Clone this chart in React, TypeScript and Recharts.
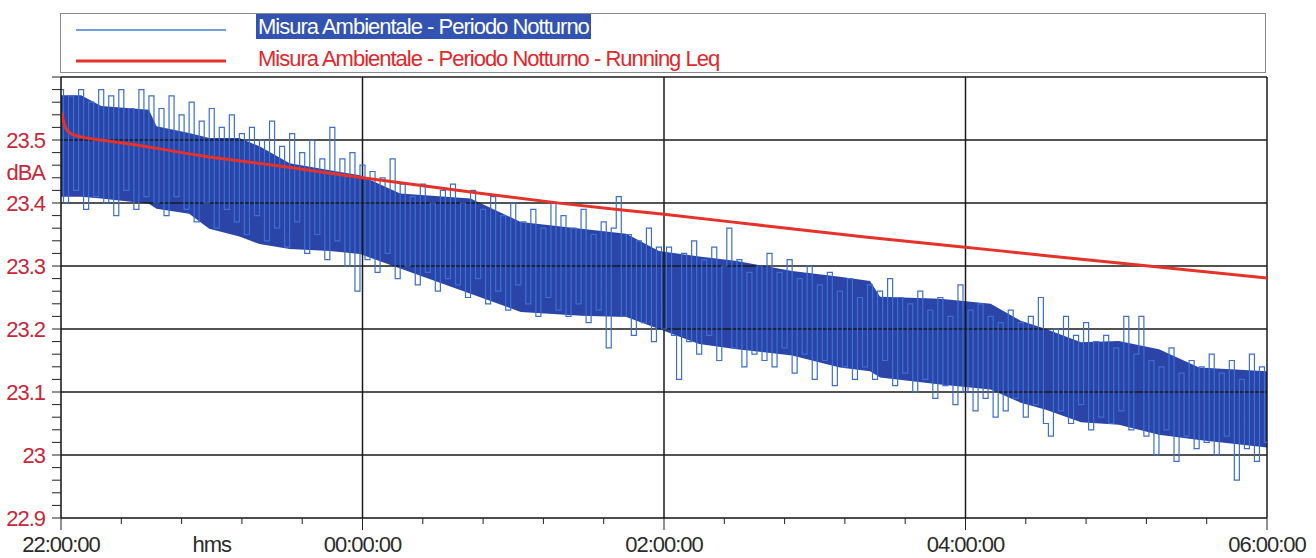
import { ComposedChart, Line, Area, XAxis, YAxis, ReferenceLine } from "recharts";

// minutes after 22:00:00, one sample every 2 minutes
const SAMPLE_MINUTES = 2;

const levels = [
  23.58, 23.40, 23.57, 23.42, 23.58, 23.39, 23.56, 23.41, 23.58, 23.40, 23.57, 23.38, 23.58, 23.42, 23.55, 23.39, 23.58, 23.41,
  23.57, 23.40, 23.55, 23.38, 23.57, 23.41, 23.54, 23.39, 23.56, 23.37, 23.53, 23.40, 23.55, 23.36, 23.52, 23.39, 23.54, 23.37, 23.51, 23.35,
  23.52, 23.38, 23.50, 23.34, 23.53, 23.36, 23.49, 23.33, 23.51, 23.37, 23.48, 23.32, 23.50, 23.35, 23.47, 23.31, 23.52, 23.34, 23.47, 23.30, 23.48, 23.26,
  23.46, 23.31, 23.45, 23.29, 23.44, 23.32, 23.47, 23.28, 23.43, 23.30, 23.41, 23.27, 23.43, 23.29, 23.40, 23.26, 23.42, 23.28,
  23.43, 23.27, 23.40, 23.25, 23.42, 23.28, 23.39, 23.24, 23.41, 23.26, 23.38, 23.23, 23.40, 23.27, 23.37, 23.24, 23.39, 23.22, 23.36, 23.25, 23.40, 23.23,
  23.38, 23.22, 23.36, 23.24, 23.39, 23.21, 23.35, 23.23, 23.37, 23.17, 23.36, 23.41, 23.22, 23.35, 23.19, 23.34, 23.21, 23.36, 23.18, 23.33,
  23.20, 23.33, 23.19, 23.12, 23.32, 23.18, 23.34, 23.16, 23.31, 23.19, 23.33, 23.15, 23.30, 23.36, 23.17, 23.31, 23.14, 23.29, 23.16, 23.30,
  23.15, 23.32, 23.14, 23.29, 23.17, 23.31, 23.13, 23.28, 23.16, 23.30, 23.12, 23.27, 23.15, 23.29, 23.11, 23.26, 23.14, 23.28, 23.12, 23.25,
  23.14, 23.27, 23.12, 23.26, 23.15, 23.28, 23.11, 23.25, 23.13, 23.24, 23.10, 23.26, 23.12, 23.23, 23.09, 23.25, 23.11, 23.22, 23.08, 23.27,
  23.10, 23.23, 23.07, 23.24, 23.09, 23.22, 23.06, 23.21,
  23.07, 23.23, 23.09, 23.21, 23.06, 23.22, 23.08, 23.25, 23.05, 23.03, 23.20, 23.07, 23.22, 23.05, 23.19, 23.08, 23.21, 23.04, 23.18, 23.06,
  23.19, 23.05, 23.17, 23.07, 23.22, 23.04, 23.16, 23.22, 23.03, 23.15, 23.00, 23.14, 23.04, 23.17, 22.99, 23.13, 23.03, 23.15, 23.01,
  23.14, 23.02, 23.16, 23.00, 23.13, 23.03, 23.15, 22.96, 23.12, 23.01, 23.16, 22.99, 23.14, 23.02,
];

const bandMinutes = [0, 8, 16, 35, 38, 51, 59, 71, 79, 91, 107, 119, 135, 163, 183, 207, 225, 238, 254, 269, 291, 310, 322, 326, 350, 370, 382, 392, 406, 421, 437, 453, 480];
const bandHigh = [
  23.571, 23.571, 23.554, 23.548, 23.522, 23.511, 23.503, 23.503, 23.49, 23.463, 23.452, 23.444, 23.415, 23.407, 23.37, 23.359, 23.351,
  23.324, 23.315, 23.308, 23.292, 23.283, 23.276, 23.251, 23.248, 23.24, 23.213, 23.2, 23.179, 23.181, 23.168, 23.139, 23.133,
];
const bandLow = [
  23.41, 23.41, 23.407, 23.399, 23.391, 23.383, 23.359, 23.347, 23.335, 23.327, 23.324, 23.319, 23.296, 23.256, 23.227, 23.221, 23.219,
  23.2, 23.176, 23.168, 23.158, 23.139, 23.133, 23.123, 23.112, 23.104, 23.083, 23.072, 23.052, 23.048, 23.032, 23.024, 23.012,
];

// running Leq
const leqMinutes = [0, 2, 4, 8, 16, 30, 56, 90, 120, 160, 200, 240, 280, 320, 374, 420, 480];
const leqValues = [23.545, 23.518, 23.51, 23.505, 23.5, 23.492, 23.475, 23.457, 23.44, 23.419, 23.399, 23.382, 23.364, 23.346, 23.324, 23.305, 23.281];

const xTicks = [0, 24, 48, 60, 72, 96, 120, 144, 168, 192, 216, 240, 264, 288, 312, 336, 360, 384, 408, 432, 456, 480];
const xMajorTicks = [0, 120, 240, 360, 480];
const xMajorLabels = ["22:00:00", "00:00:00", "02:00:00", "04:00:00", "06:00:00"];
const xUnitTick = 60;
const xUnitLabel = "hms";
const xGrid = [120, 240, 360];

const yTicks = [
  22.9, 22.92, 22.94, 22.96, 22.98, 23, 23.02, 23.04, 23.06, 23.08, 23.1, 23.12, 23.14, 23.16, 23.18,
  23.2, 23.22, 23.24, 23.26, 23.28, 23.3, 23.32, 23.34, 23.36, 23.38, 23.4, 23.42, 23.44, 23.45, 23.46, 23.48,
  23.5, 23.52, 23.54, 23.56, 23.58, 23.6,
];
const yMajorTicks = [22.9, 23, 23.1, 23.2, 23.3, 23.4, 23.5];
const yMajorLabels = ["22.9", "23", "23.1", "23.2", "23.3", "23.4", "23.5"];
const yUnitTick = 23.45;
const yUnitLabel = "dBA";
const yGrid = [23, 23.1, 23.2, 23.3, 23.4, 23.5];

const seriesNames = ["Misura Ambientale - Periodo Notturno", "Misura Ambientale - Periodo Notturno - Running Leq"];

const levelData = levels.map((v, i) => ({ t: i * SAMPLE_MINUTES, level: v }));
const bandData = bandMinutes.map((t, i) => ({ t, band: [bandLow[i], bandHigh[i]] }));
const leqData = leqMinutes.map((t, i) => ({ t, leq: leqValues[i] }));

const FONT = "'Liberation Sans Narrow', 'Arial Narrow', 'Liberation Sans', sans-serif";
const same = (a: number, b: number) => Math.abs(a - b) < 1e-6;

const XTick = ({ x, y, payload }: any) => {
  const v = payload.value as number;
  if (same(v, xUnitTick)) {
    return <text x={x} y={y + 34} textAnchor="middle" fontFamily={FONT} fontSize={22} fill="#2b2b2b" letterSpacing={-1}>{xUnitLabel}</text>;
  }
  const idx = xMajorTicks.findIndex(m => same(m, v));
  return (
    <g>
      <line x1={x} x2={x} y1={y} y2={y + (idx >= 0 ? 12 : 6)} stroke="#222" strokeWidth={1} />
      {idx >= 0 && (
        <text x={x} y={y + 34} textAnchor="middle" fontFamily={FONT} fontSize={22} fill="#2b2b2b" letterSpacing={-1}>{xMajorLabels[idx]}</text>
      )}
    </g>
  );
};

const YTick = ({ x, y, payload }: any) => {
  const v = payload.value as number;
  if (same(v, yUnitTick)) {
    return <text x={x - 16} y={y + 8} textAnchor="end" fontFamily={FONT} fontSize={22} fill="#c8283a" letterSpacing={-1}>{yUnitLabel}</text>;
  }
  const idx = yMajorTicks.findIndex(m => same(m, v));
  return (
    <g>
      <line x1={x - 9} x2={x} y1={y} y2={y} stroke="#222" strokeWidth={1} />
      {idx >= 0 && (
        <text x={x - 16} y={y + 8} textAnchor="end" fontFamily={FONT} fontSize={22} fill="#c8283a" letterSpacing={-1}>{yMajorLabels[idx]}</text>
      )}
    </g>
  );
};

function LegendBox() {
  return (
    <div style={{ position: "absolute", left: 60, top: 13, width: 1206, height: 60, border: "1px solid #8a8a8a", boxSizing: "border-box", background: "#fff", fontFamily: FONT }}>
      <svg width={170} height={60} style={{ position: "absolute", left: 0, top: 0 }}>
        <line x1={15} x2={165} y1={16} y2={16} stroke="#3f7fd4" strokeWidth={1.5} />
        <line x1={15} x2={165} y1={47} y2={47} stroke="#e5322a" strokeWidth={3} />
      </svg>
      <div style={{ position: "absolute", left: 195, top: 0, height: 25, lineHeight: "25px", fontSize: 22, letterSpacing: -1, color: "#fff", background: "#3353b3", padding: "0 2px", whiteSpace: "nowrap" }}>
        {seriesNames[0]}
      </div>
      <div style={{ position: "absolute", left: 197, top: 32, height: 25, lineHeight: "25px", fontSize: 22, letterSpacing: -1, color: "#e3262a", whiteSpace: "nowrap" }}>
        {seriesNames[1]}
      </div>
    </div>
  );
}

export default function App() {
  return (
    <div style={{ position: "absolute", left: 0, top: 0, width: 1316, height: 558, background: "#fff", overflow: "hidden" }}>
      <ComposedChart width={1316} height={558} margin={{ top: 77, right: 49, bottom: 0, left: 0 }}>
        <XAxis
          type="number"
          dataKey="t"
          domain={[0, 480]}
          ticks={xTicks}
          interval={0}
          tick={<XTick />}
          tickLine={false}
          tickSize={0}
          tickMargin={0}
          height={40}
          axisLine={{ stroke: "#111", strokeWidth: 1.5 }}
          allowDataOverflow
        />
        <YAxis
          type="number"
          domain={[22.9, 23.6]}
          ticks={yTicks}
          interval={0}
          tick={<YTick />}
          tickLine={false}
          tickSize={0}
          tickMargin={0}
          width={61}
          axisLine={{ stroke: "#111", strokeWidth: 1.5 }}
          allowDataOverflow
        />
        {yGrid.map(v => (
          <ReferenceLine key={"y" + v} y={v} stroke="#1a1a1a" strokeWidth={1.5} />
        ))}
        {xGrid.map(v => (
          <ReferenceLine key={"x" + v} x={v} stroke="#1a1a1a" strokeWidth={1.5} />
        ))}
        <ReferenceLine y={23.6} stroke="#1a1a1a" strokeWidth={1.5} />
        <ReferenceLine x={480} stroke="#1a1a1a" strokeWidth={1.5} />
        <Area data={bandData} dataKey="band" type="linear" stroke="none" fill="#2a45a7" fillOpacity={1} isAnimationActive={false} />
        <Line data={levelData} dataKey="level" type="step" stroke="#3d6fd3" strokeWidth={1.2} dot={false} isAnimationActive={false} />
        <Line data={leqData} dataKey="leq" type="monotone" stroke="#e5322a" strokeWidth={3} dot={false} isAnimationActive={false} />
      </ComposedChart>
      <LegendBox />
    </div>
  );
}
